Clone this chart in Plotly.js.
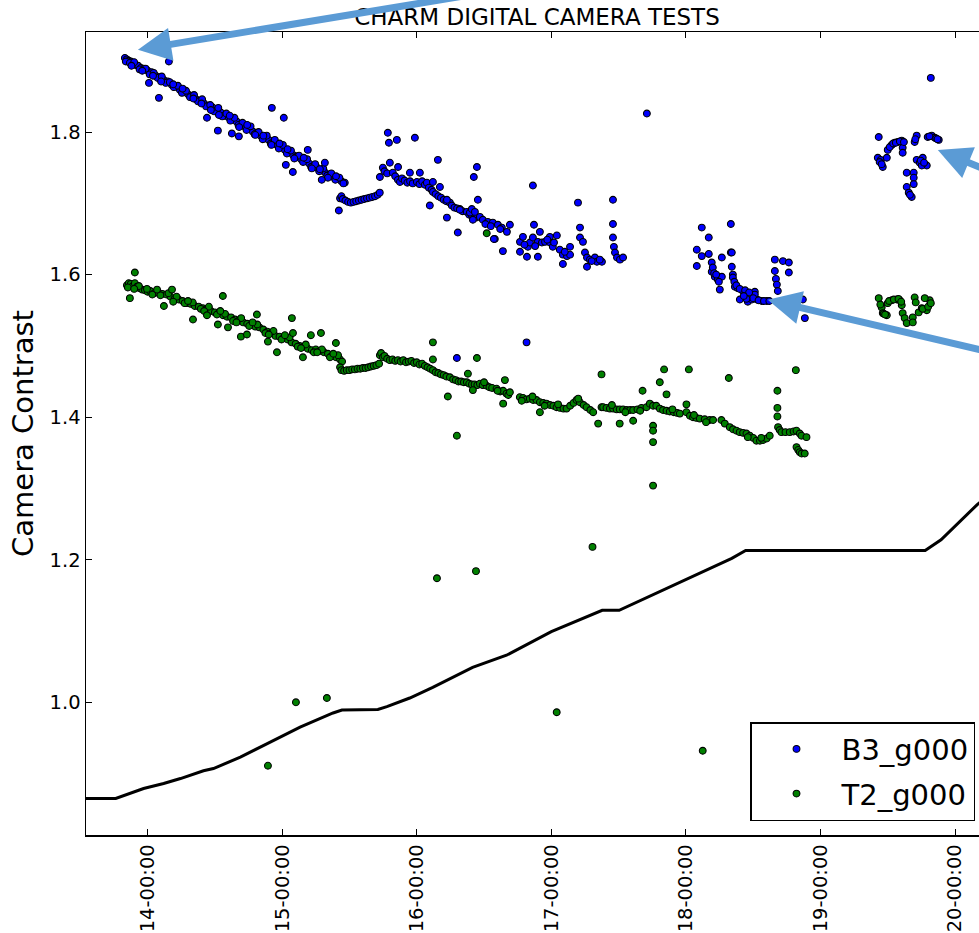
<!DOCTYPE html>
<html>
<head>
<meta charset="utf-8">
<script src="https://cdn.plot.ly/plotly-3.0.1.min.js"></script>
<style>
html,body{margin:0;padding:0;overflow:hidden;background:#fff;}
#chart{position:absolute;left:0;top:-20px;width:1040px;height:953px;}
</style>
</head>
<body>
<div id="chart"></div>
<script>
// ---- data (x = day of month, fractional; y = camera contrast) ----
const tickDays = [14, 15, 16, 17, 18, 19, 20];
const tickLabels = ["14-00:00", "15-00:00", "16-00:00", "17-00:00", "18-00:00", "19-00:00", "20-00:00"];
const yTickVals = [1.0, 1.2, 1.4, 1.6, 1.8];
const yTickLabels = ["1.0", "1.2", "1.4", "1.6", "1.8"];

const b3Points = [
  [13.831,1.904],[13.845,1.902],[13.86,1.900],[13.875,1.899],[13.89,1.897],[13.91,1.894],[13.93,1.893],[13.95,1.890],[13.97,1.889],[14.00,1.886],
  [14.03,1.884],[14.06,1.879],[14.09,1.877],[14.12,1.873],[14.15,1.871],[14.18,1.866],[14.21,1.864],[14.24,1.859],[14.27,1.857],[14.30,1.853],
  [14.33,1.851],[14.36,1.846],[14.39,1.844],[14.42,1.840],[14.45,1.837],[14.48,1.835],[14.51,1.830],[14.54,1.828],[14.57,1.823],[14.60,1.821],
  [14.63,1.818],[14.66,1.815],[14.69,1.811],[14.72,1.808],[14.75,1.806],[14.78,1.801],[14.81,1.799],[14.84,1.795],[14.87,1.791],[14.90,1.789],
  [14.93,1.785],[14.96,1.782],[14.99,1.780],[15.02,1.775],[15.05,1.773],[15.08,1.768],[15.11,1.766],[15.14,1.762],[15.17,1.759],[15.20,1.756],
  [15.23,1.752],[15.26,1.750],[15.29,1.746],[15.32,1.743],[15.35,1.740],[15.38,1.737],[15.41,1.735],[15.44,1.731],[15.465,1.729],
  [13.838,1.899],[13.868,1.897],[13.90,1.898],[13.94,1.888],[13.985,1.889],[14.015,1.881],[14.045,1.883],[14.075,1.876],[14.105,1.878],[14.135,1.869],
  [14.165,1.870],[14.195,1.863],[14.225,1.865],[14.255,1.855],[14.285,1.858],[14.315,1.849],[14.345,1.852],[14.375,1.843],[14.405,1.846],[14.435,1.836],
  [14.465,1.838],[14.495,1.829],[14.525,1.834],[14.555,1.822],[14.585,1.826],[14.615,1.816],[14.645,1.820],[14.675,1.810],[14.705,1.813],[14.735,1.803],
  [14.765,1.808],[14.795,1.797],[14.825,1.800],[14.855,1.790],[14.885,1.795],[14.915,1.784],[14.945,1.789],[14.975,1.777],[15.005,1.782],[15.035,1.770],
  [15.065,1.774],[15.095,1.764],[15.125,1.767],[15.155,1.758],[15.185,1.762],[15.215,1.751],[15.245,1.755],[15.275,1.745],[15.305,1.749],[15.335,1.739],
  [15.365,1.742],[15.395,1.733],[15.425,1.736],[15.455,1.728],
  [13.88,1.893],[13.96,1.886],[14.04,1.879],[14.10,1.871],[14.19,1.867],[14.26,1.861],[14.34,1.847],[14.40,1.840],[14.47,1.831],[14.53,1.824],
  [14.61,1.823],[14.68,1.807],[14.74,1.810],[14.80,1.796],[14.86,1.795],[14.92,1.782],[14.98,1.784],[15.04,1.776],[15.09,1.763],[15.16,1.764],
  [15.22,1.749],[15.28,1.748],[15.34,1.736],[15.40,1.738],
  [14.158,1.899],[14.084,1.848],[14.010,1.869],[14.441,1.820],[14.522,1.802],[14.626,1.798],[14.678,1.794],[14.923,1.834],[15.012,1.820],
  [15.027,1.754],[15.079,1.744],[15.190,1.775],[15.294,1.733],[15.317,1.757],[15.421,1.690],
  [15.43,1.707],[15.44,1.710],[15.45,1.706],[15.47,1.704],[15.49,1.702],[15.51,1.701],[15.53,1.702],[15.55,1.703],[15.57,1.704],[15.59,1.705],
  [15.61,1.706],[15.63,1.707],[15.65,1.708],[15.67,1.709],[15.69,1.710],[15.71,1.712],[15.725,1.715],
  [15.726,1.737],[15.748,1.750],[15.760,1.745],[15.78,1.742],[15.800,1.757],[15.822,1.743],[15.84,1.738],[15.86,1.733],[15.875,1.730],[15.89,1.735],
  [15.91,1.732],[15.93,1.729],[15.95,1.731],[15.97,1.728],[16.001,1.730],[16.02,1.727],[16.04,1.731],[16.06,1.726],[16.075,1.729],[16.09,1.722],
  [16.11,1.719],[16.120,1.716],[16.14,1.713],[16.16,1.710],[16.18,1.708],[16.20,1.705],[16.22,1.703],[16.246,1.701],[16.26,1.697],[16.28,1.694],
  [16.30,1.693],[16.32,1.692],[16.34,1.689],[16.372,1.688],[16.39,1.684],[16.41,1.683],[16.44,1.680],
  [15.861,1.751],[15.949,1.743],[16.023,1.743],[16.120,1.730],[16.172,1.723],[16.224,1.705],[16.320,1.691],[16.395,1.687],
  [15.785,1.799],[15.793,1.785],[15.852,1.789],[15.986,1.792],[16.157,1.761],[16.097,1.697],[16.224,1.680],[16.305,1.659],[16.580,1.650],
  [16.447,1.751],[16.424,1.737],[16.454,1.705],[16.409,1.692],[16.432,1.688],[16.469,1.681],[16.491,1.677],[16.528,1.674],[16.565,1.673],[16.603,1.670],
  [16.632,1.666],[16.670,1.660],[16.692,1.670],[16.417,1.677],[16.573,1.650],[16.640,1.633],[16.767,1.632],[16.767,1.646],[16.789,1.653],[16.826,1.639],
  [16.841,1.645],[16.863,1.652],[16.871,1.670],[16.863,1.725],[16.915,1.660],[16.900,1.646],[16.930,1.645],[16.953,1.646],[16.989,1.653],[16.989,1.645],
  [17.011,1.639],[17.041,1.655],[17.063,1.635],[17.086,1.628],[17.116,1.626],[17.139,1.639],[17.139,1.628],[17.086,1.615],[16.900,1.625],[16.819,1.625],
  [17.198,1.701],[17.213,1.666],[17.213,1.652],[17.235,1.646],[17.250,1.631],[17.265,1.624],[17.287,1.621],[17.324,1.624],[17.339,1.618],[17.376,1.618],
  [17.265,1.611],[17.458,1.705],[17.458,1.671],[17.458,1.652],[17.465,1.639],[17.473,1.631],[17.488,1.624],[17.510,1.621],[17.533,1.624],
  [16.51,1.671],[16.55,1.668],[16.62,1.664],[16.80,1.642],[16.88,1.640],[16.97,1.649],[17.02,1.645],[17.10,1.632],[17.30,1.619],[17.36,1.621],
  [17.710,1.826],[16.298,1.483],[16.816,1.505],
  [18.118,1.666],[18.334,1.671],[18.170,1.652],[18.081,1.635],[18.118,1.626],[18.170,1.629],[18.267,1.624],[18.334,1.631],[18.341,1.631],[18.081,1.612],
  [18.192,1.617],[18.192,1.604],[18.215,1.597],[18.237,1.593],[18.267,1.597],[18.252,1.579],[18.341,1.611],[18.349,1.600],[18.349,1.596],[18.364,1.583],
  [18.386,1.581],[18.423,1.577],[18.512,1.576],[18.401,1.565],[18.460,1.562],[18.490,1.565],[18.527,1.565],[18.564,1.563],[18.602,1.563],[18.512,1.572],
  [18.661,1.621],[18.721,1.619],[18.765,1.617],[18.661,1.605],[18.765,1.603],[18.669,1.594],[18.676,1.586],[18.683,1.577],[18.869,1.565],[18.884,1.539],
  [18.20,1.610],[18.21,1.602],[18.225,1.600],[18.245,1.590],[18.36,1.590],[18.375,1.585],[18.40,1.580],[18.44,1.578],[18.47,1.575],[18.50,1.567],
  [18.54,1.564],[18.58,1.563],[18.62,1.563],[18.45,1.566],[18.43,1.570],
  [19.820,1.876],
  [19.433,1.793],[19.426,1.764],[19.448,1.761],[19.463,1.751],[19.493,1.764],[19.500,1.775],[19.530,1.782],[19.552,1.785],[19.574,1.786],[19.604,1.788],
  [19.611,1.778],[19.611,1.771],[19.700,1.786],[19.715,1.795],[19.797,1.793],[19.827,1.795],[19.849,1.792],[19.879,1.789],[19.715,1.761],[19.738,1.757],
  [19.760,1.764],[19.790,1.753],[19.753,1.753],[19.641,1.743],[19.693,1.743],[19.693,1.736],[19.693,1.727],[19.641,1.723],[19.656,1.715],[19.678,1.709],
  [19.44,1.758],[19.455,1.755],[19.515,1.779],[19.54,1.784],[19.56,1.785],[19.59,1.787],[19.705,1.790],[19.81,1.794],[19.86,1.791],[19.87,1.790],
  [19.745,1.760],[19.77,1.757],[19.665,1.712],[19.62,1.786]
];

const t2Points = [
  [13.846,1.585],[13.86,1.588],[13.875,1.587],[13.89,1.584],[13.905,1.588],[13.92,1.583],[13.94,1.581],[13.96,1.579],[13.98,1.578],[14.00,1.576],
  [14.02,1.577],[14.05,1.574],[14.08,1.575],[14.11,1.573],[14.14,1.572],[14.17,1.569],[14.20,1.566],[14.23,1.565],[14.26,1.563],[14.29,1.560],
  [14.32,1.559],[14.35,1.556],[14.38,1.555],[14.41,1.553],[14.44,1.552],[14.47,1.549],[14.50,1.547],[14.53,1.546],[14.56,1.543],[14.59,1.541],
  [14.62,1.540],[14.65,1.537],[14.68,1.536],[14.71,1.533],[14.74,1.531],[14.77,1.530],[14.80,1.527],[14.83,1.526],[14.86,1.523],[14.89,1.520],
  [14.92,1.518],[14.95,1.514],[14.98,1.513],[15.01,1.511],[15.04,1.509],[15.07,1.505],[15.10,1.503],[15.13,1.500],[15.16,1.499],[15.19,1.496],
  [15.22,1.494],[15.25,1.495],[15.28,1.493],[15.31,1.491],[15.34,1.489],[15.37,1.486],[15.40,1.484],[15.43,1.481],[15.445,1.478],
  [13.853,1.582],[13.935,1.584],[13.995,1.580],[14.035,1.572],[14.095,1.571],[14.155,1.574],[14.215,1.569],[14.275,1.560],[14.335,1.561],[14.395,1.552],
  [14.455,1.555],[14.515,1.544],[14.575,1.545],[14.635,1.535],[14.695,1.539],[14.755,1.528],[14.815,1.530],[14.875,1.518],[14.935,1.521],[14.995,1.509],
  [15.055,1.512],[15.115,1.499],[15.175,1.502],[15.235,1.491],[15.295,1.495],[15.355,1.484],[15.415,1.487],
  [13.90,1.580],[14.07,1.579],[14.19,1.562],[14.30,1.563],[14.42,1.549],[14.54,1.549],[14.66,1.533],[14.78,1.533],[14.90,1.516],[15.02,1.515],
  [15.14,1.497],[15.26,1.491],[15.38,1.489],
  [13.868,1.567],[13.905,1.603],[14.121,1.556],[14.181,1.579],[14.337,1.537],[14.441,1.543],[14.522,1.530],[14.559,1.570],[14.597,1.526],[14.693,1.513],
  [14.738,1.516],[14.812,1.544],[14.894,1.506],[14.961,1.491],[15.072,1.539],[15.080,1.518],[15.154,1.484],[15.213,1.515],[15.288,1.518],[15.399,1.504],
  [15.43,1.470],[15.44,1.466],[15.46,1.465],[15.48,1.466],[15.50,1.466],[15.52,1.467],[15.54,1.467],[15.56,1.468],[15.58,1.468],[15.60,1.469],
  [15.62,1.469],[15.64,1.470],[15.66,1.471],[15.68,1.472],[15.70,1.473],[15.72,1.475],
  [15.726,1.487],[15.735,1.490],[15.748,1.484],[15.76,1.486],[15.78,1.482],[15.80,1.480],[15.82,1.481],[15.84,1.479],[15.86,1.480],[15.88,1.478],
  [15.90,1.480],[15.92,1.477],[15.94,1.478],[15.96,1.479],[15.98,1.476],[16.00,1.477],[16.02,1.474],[16.04,1.475],[16.06,1.472],[16.08,1.470],
  [16.10,1.468],[16.12,1.466],[16.14,1.463],[16.16,1.462],[16.18,1.460],[16.20,1.459],[16.22,1.457],[16.246,1.456],[16.27,1.453],[16.29,1.452],
  [16.31,1.450],[16.33,1.450],[16.35,1.449],[16.372,1.449],[16.39,1.447],[16.41,1.446],[16.43,1.446],[16.45,1.445],[16.469,1.447],[16.49,1.445],
  [16.519,1.444],[16.54,1.442],[16.56,1.441],[16.593,1.440],[16.62,1.436],[16.642,1.437],[16.655,1.452],[16.667,1.433],[16.68,1.431],[16.692,1.435],
  [16.766,1.428],[16.79,1.427],[16.815,1.425],[16.840,1.426],[16.865,1.424],[16.89,1.424],[16.915,1.421],[16.94,1.420],[16.964,1.419],[16.99,1.417],
  [17.015,1.416],[17.039,1.414],[17.065,1.413],[17.09,1.412],[17.113,1.412],[17.14,1.416],[17.165,1.420],[17.187,1.424],[17.212,1.421],[17.24,1.417],
  [17.262,1.414],[17.29,1.410],[17.311,1.407],
  [17.373,1.414],[17.385,1.414],[17.41,1.413],[17.435,1.412],[17.459,1.412],[17.485,1.411],[17.508,1.411],[17.533,1.411],[17.56,1.410],[17.585,1.410],
  [17.608,1.410],[17.64,1.411],[17.67,1.413],[17.707,1.414],[17.732,1.419],[17.756,1.416],[17.78,1.416],[17.806,1.412],[17.83,1.410],[17.856,1.409],
  [17.88,1.408],[17.91,1.407],[17.935,1.406],[17.955,1.405],
  [18.004,1.407],[18.03,1.402],[18.053,1.400],[18.078,1.399],[18.103,1.398],[18.14,1.397],[18.177,1.396],[18.202,1.396],[18.264,1.396],[18.289,1.391],
  [18.326,1.386],[18.35,1.383],[18.376,1.381],[18.40,1.379],[18.425,1.378],[18.450,1.377],[18.475,1.374],[18.50,1.371],[18.524,1.367],[18.55,1.367],
  [18.574,1.368],[18.60,1.370],[18.623,1.374],
  [18.685,1.386],[18.697,1.382],[18.710,1.379],[18.74,1.379],[18.772,1.379],[18.80,1.380],[18.822,1.381],[18.846,1.377],[18.859,1.374],[18.896,1.372],
  [18.822,1.358],[18.835,1.354],[18.846,1.351],[18.86,1.349],[18.883,1.349],
  [16.50,1.449],[16.60,1.437],[16.78,1.423],[16.86,1.429],[16.95,1.416],[17.05,1.418],[17.20,1.426],[17.45,1.417],[17.55,1.407],[17.66,1.409],
  [17.90,1.411],[18.06,1.403],[18.15,1.393],[18.46,1.372],[18.56,1.371],
  [17.373,1.460],[17.838,1.467],[18.022,1.467],[18.319,1.455],[18.817,1.466],[18.680,1.437],[18.680,1.413],[18.680,1.401],[17.806,1.449],[17.856,1.432],
  [17.678,1.437],[17.756,1.388],[17.756,1.381],[17.756,1.365],[17.508,1.391],[17.608,1.395],[16.915,1.407],[17.348,1.391],[18.004,1.418],[16.642,1.419],
  [16.120,1.505],[16.120,1.481],[16.231,1.429],[16.298,1.374],[16.447,1.483],[16.380,1.461],[16.417,1.438],[16.520,1.658],
  [16.150,1.174],[16.440,1.184],[14.894,0.911],[15.102,1.000],[15.332,1.006],[17.306,1.218],[17.040,0.986],[18.125,0.932],[17.756,1.304],
  [19.433,1.567],[19.455,1.554],[19.463,1.546],[19.493,1.543],[19.500,1.560],[19.530,1.564],[19.567,1.565],[19.589,1.564],[19.604,1.557],[19.611,1.546],
  [19.626,1.539],[19.641,1.532],[19.700,1.568],[19.708,1.561],[19.730,1.547],[19.753,1.553],[19.790,1.550],[19.812,1.564],[19.775,1.567],[19.686,1.540],
  [19.686,1.533],[19.445,1.558],[19.47,1.545],[19.48,1.544],[19.51,1.563],[19.545,1.565],[19.58,1.566],[19.60,1.562],[19.76,1.552],[19.80,1.555],[19.82,1.560]
];

const lineDays = [13.542,13.763,13.970,14.119,14.244,14.415,14.489,14.689,14.889,15.133,15.378,15.444,15.711,15.778,15.948,16.119,16.415,16.615,16.667,17.0,17.378,17.504,18.0,18.341,18.444,19.778,19.896,20.163,20.245];
const lineVals = [0.865,0.865,0.879,0.886,0.893,0.904,0.907,0.923,0.942,0.965,0.985,0.989,0.990,0.994,1.006,1.021,1.049,1.063,1.066,1.099,1.129,1.129,1.172,1.202,1.213,1.213,1.228,1.277,1.290];

// arrow tips (data coords) and tail offsets (pixels)
const arrowTipDays = [13.928, 19.872, 18.608];
const arrowTipVals = [1.9155, 1.775, 1.5646];
const arrowTailDx = [400, 80, 260];
const arrowTailDy = [-66, 33, 61];

const FONT = "DejaVu Sans";
const col = (pts, i) => pts.map(p => p[i]);

const traces = [
  {
    x: col(b3Points, 0), y: col(b3Points, 1), name: "B3_g000", type: "scatter", mode: "markers",
    marker: {color: "#0000ff", size: 6.8, line: {color: "#000", width: 1.1}},
    legendgroup: "a"
  },
  {
    x: col(t2Points, 0), y: col(t2Points, 1), name: "T2_g000", type: "scatter", mode: "markers",
    marker: {color: "#008000", size: 6.8, line: {color: "#000", width: 1.1}},
    legendgroup: "b"
  },
  {
    x: lineDays, y: lineVals, type: "scatter", mode: "lines", showlegend: false,
    line: {color: "#000", width: 3}
  }
];

const annotations = arrowTipDays.map((d, i) => ({
  x: d, y: arrowTipVals[i], xref: "x", yref: "y",
  ax: arrowTailDx[i], ay: arrowTailDy[i], axref: "pixel", ayref: "pixel",
  text: "", showarrow: true, arrowhead: 2, arrowsize: 0.95, arrowwidth: 7,
  arrowcolor: "#5b9bd5"
}));

const layout = {
  width: 1040, height: 953,
  margin: {l: 86, r: 52, t: 52, b: 98},
  paper_bgcolor: "#fff", plot_bgcolor: "#fff",
  font: {family: FONT, color: "#000"},
  title: {
    text: "CHARM DIGITAL CAMERA TESTS",
    font: {family: FONT, size: 23, color: "#000"},
    x: 0.5, xref: "paper", xanchor: "center",
    y: 1 - 37 / 953, yref: "container", yanchor: "middle"
  },
  xaxis: {
    range: [13.542, 20.245], tickmode: "array", tickvals: tickDays, ticktext: tickLabels,
    tickangle: -90, tickfont: {family: FONT, size: 19.5, color: "#000"},
    ticks: "inside", ticklen: 6, tickwidth: 1, tickcolor: "#000",
    showline: true, linecolor: "#000", linewidth: 1.5, mirror: "allticks",
    showgrid: false, zeroline: false
  },
  yaxis: {
    range: [0.8138, 1.9404], tickmode: "array", tickvals: yTickVals, ticktext: yTickLabels,
    tickfont: {family: FONT, size: 19.5, color: "#000"},
    ticks: "inside", ticklen: 6, tickwidth: 1, tickcolor: "#000",
    showline: true, linecolor: "#000", linewidth: 1.5, mirror: "allticks",
    showgrid: false, zeroline: false,
    title: {text: "Camera Contrast", font: {family: FONT, size: 29, color: "#000"}, standoff: 7}
  },
  legend: {
    x: 0.9856, y: 0.0174, xanchor: "right", yanchor: "bottom",
    bgcolor: "#fff", bordercolor: "#000", borderwidth: 1.5,
    font: {family: FONT, size: 29, color: "#000"},
    itemwidth: 80, tracegroupgap: 4, traceorder: "grouped"
  },
  showlegend: true,
  annotations: annotations
};

Plotly.newPlot("chart", traces, layout, {displayModeBar: false, staticPlot: true});
</script>
</body>
</html>
